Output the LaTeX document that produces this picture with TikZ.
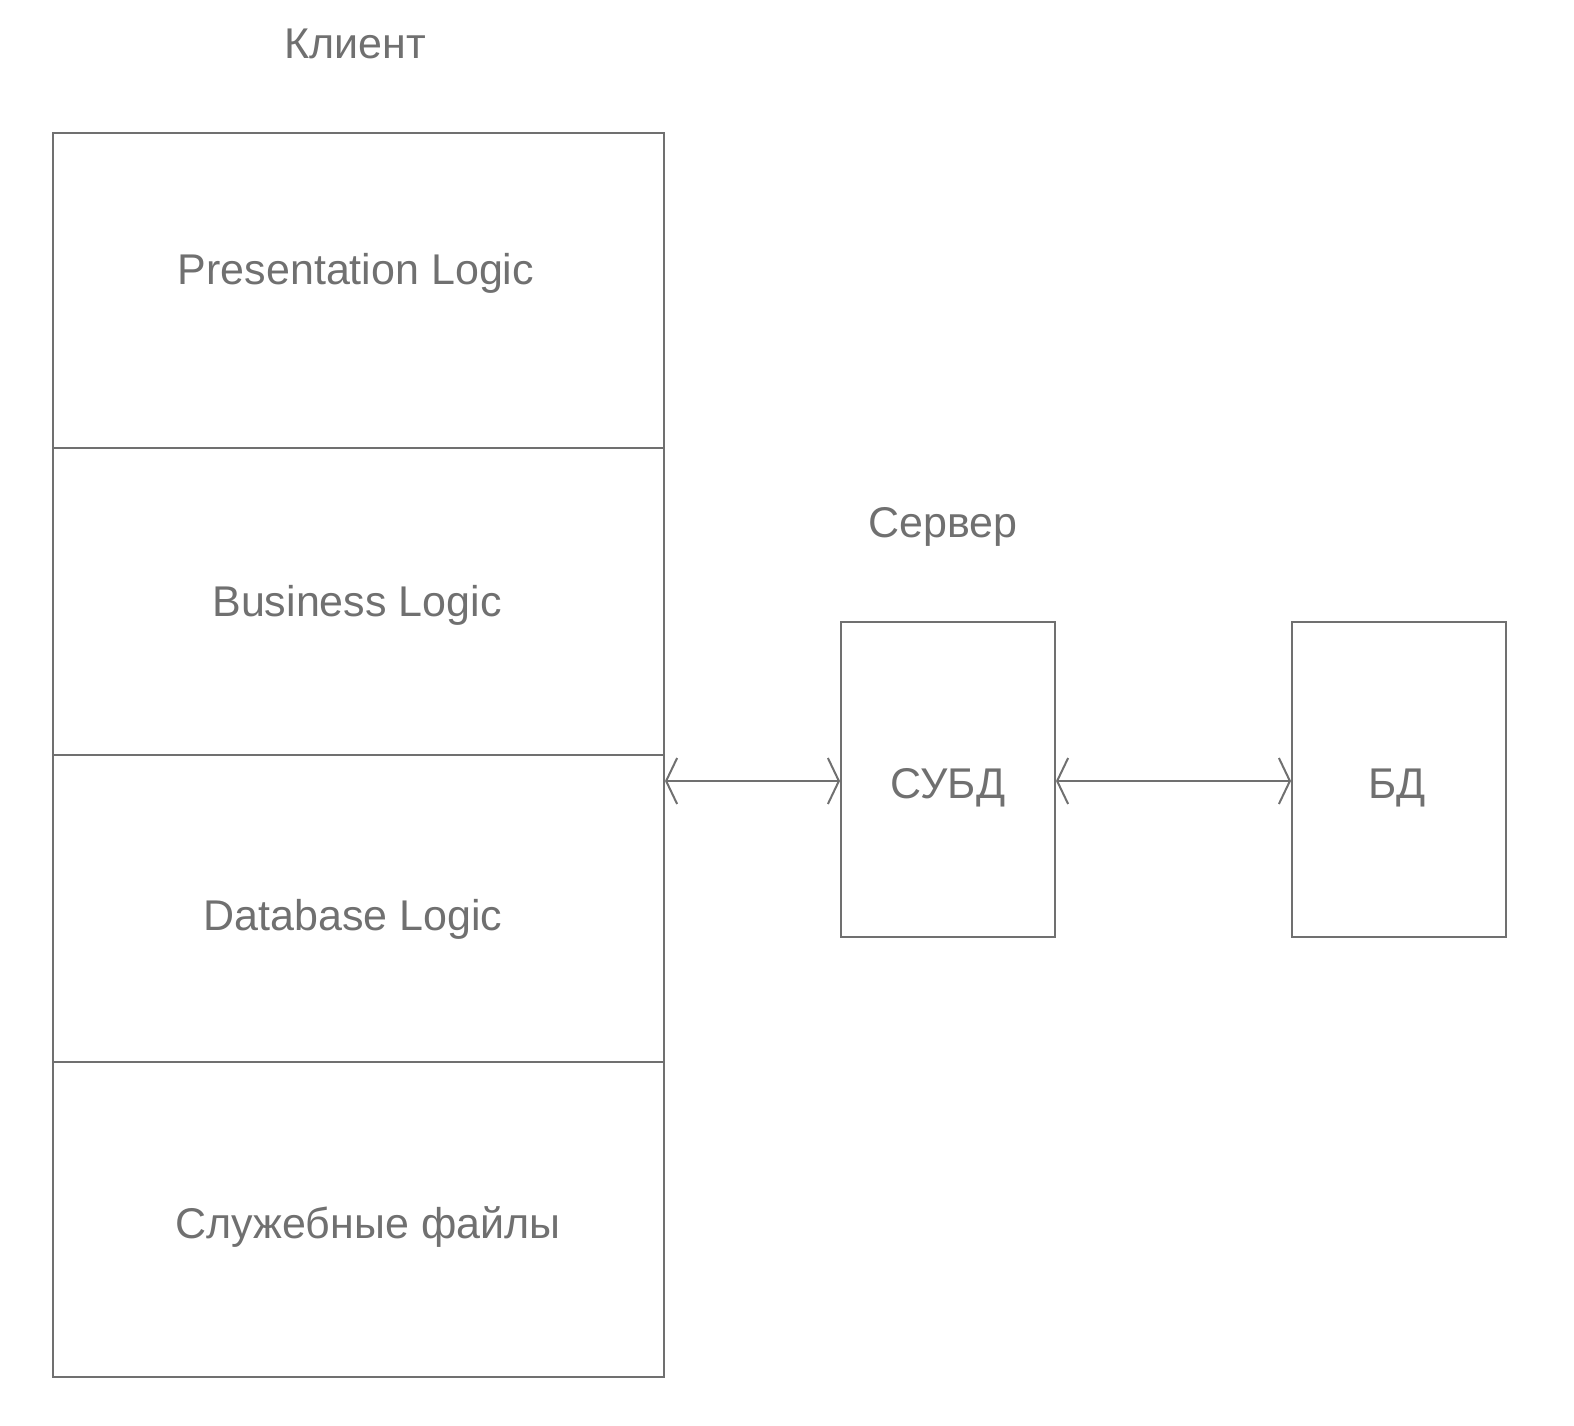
\documentclass[tikz,border=0pt]{standalone}
\usepackage{fontspec}
\setmainfont{Liberation Sans}
\usetikzlibrary{arrows.meta}
\definecolor{ink}{RGB}{112,112,112}
\tikzset{
  lbl/.style={text=ink, font=\fontsize{43bp}{50bp}\selectfont, inner sep=0pt, anchor=base},
  layer/.style={draw=ink, line width=2bp, inner sep=0pt, anchor=north west},
  conn/.style={draw=ink, line width=2bp, {Straight Barb[length=11bp,width=46bp,line width=2bp]}-{Straight Barb[length=11bp,width=46bp,line width=2bp]}}
}
\begin{document}
\begin{tikzpicture}[x=1bp,y=-1bp]
\useasboundingbox (0,0) rectangle (1574,1426);
% client layers
\node[layer, minimum width=611bp, minimum height=315bp] (pres) at (52,132) {};
\node[layer, minimum width=611bp, minimum height=307bp] (bus) at (52,447) {};
\node[layer, minimum width=611bp, minimum height=307bp] (db) at (52,754) {};
\node[layer, minimum width=611bp, minimum height=315bp] (srv) at (52,1061) {};
\node[lbl] (tpres) at (356,285) {Presentation Logic};
\node[lbl] (tbus) at (357,616) {Business Logic};
\node[lbl] (tdb) at (353,930) {Database Logic};
\node[lbl] (tsrv) at (368,1238) {Служебные файлы};
\node[lbl] (client) at (355,59) {Клиент};
% server
\node[lbl] (server) at (943,537) {Сервер};
\node[layer, minimum width=214bp, minimum height=315bp] (dbms) at (840,621) {};
\node[layer, minimum width=214bp, minimum height=315bp] (base) at (1291,621) {};
\node[lbl] (tdbms) at (948,798) {СУБД};
\node[lbl] (tbase) at (1397,798) {БД};
\draw[conn] (dbms.west |- 0,781) coordinate (a2) -- (pres.east |- 0,781) coordinate (a1);
\draw[conn] (dbms.east |- 0,781) coordinate (b1) -- (base.west |- 0,781) coordinate (b2);
\end{tikzpicture}
\end{document}
